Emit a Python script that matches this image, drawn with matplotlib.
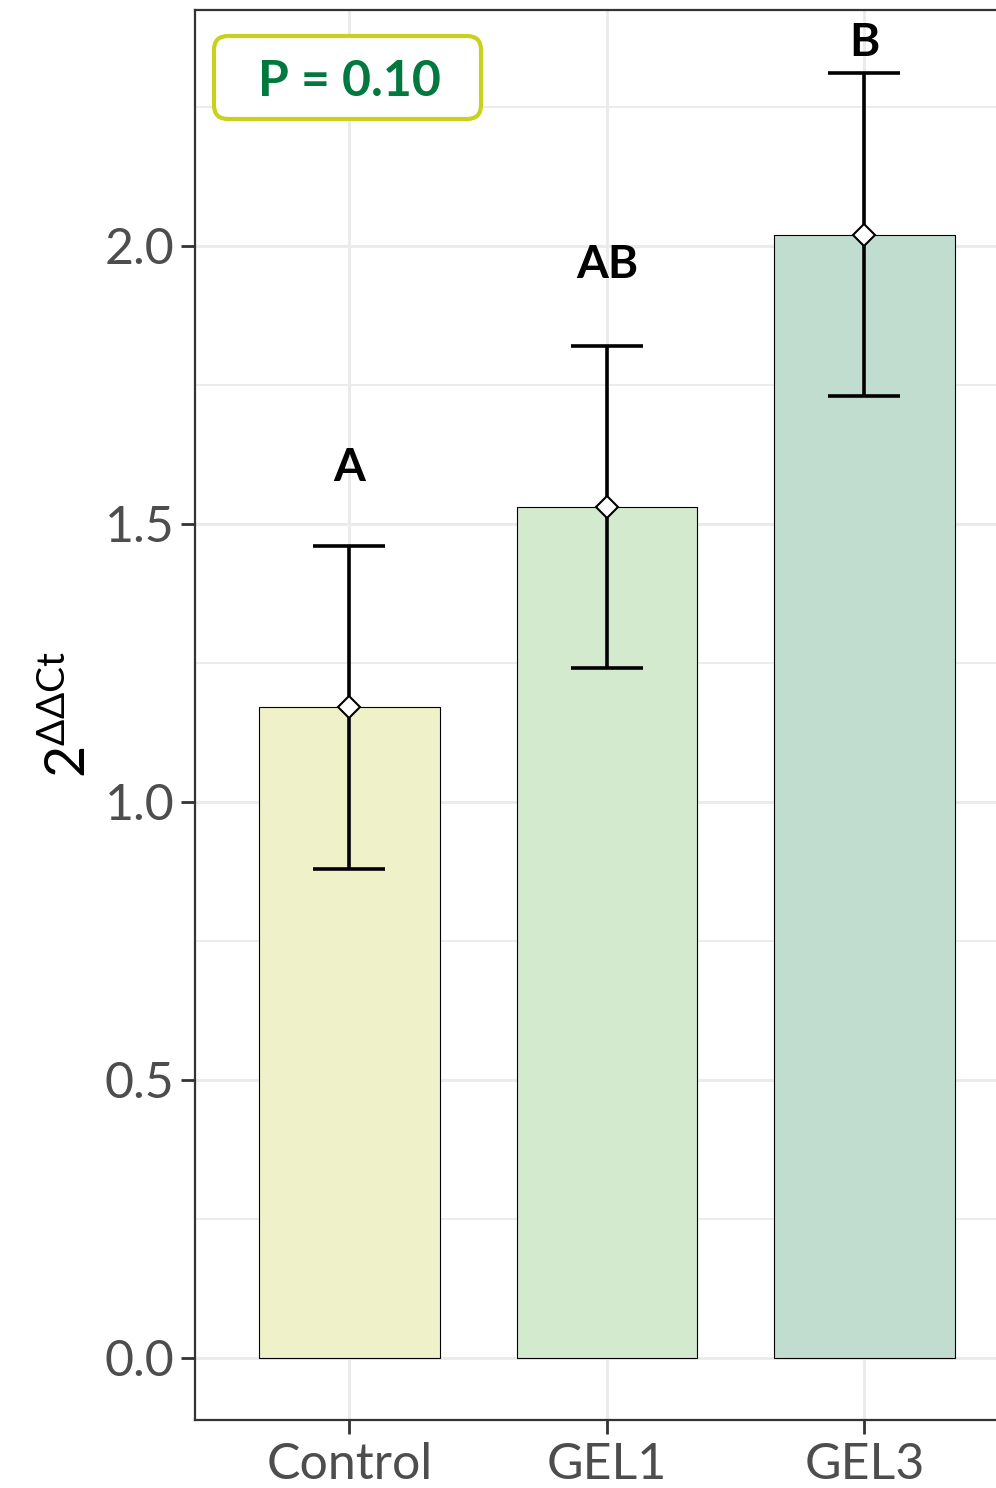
import matplotlib.pyplot as plt
import numpy as np
from matplotlib.patches import FancyBboxPatch
from matplotlib.transforms import IdentityTransform

grupos = ["Control", "GEL1", "GEL3"]
medias = [1.17, 1.53, 2.02]
errores = [0.29, 0.29, 0.29]
letras = ["A", "AB", "B"]
pos_letras = [1.60, 1.965, 2.365]
colores = ["#EFF2C8", "#D3EACE", "#C0DDD0"]
texto_p = "P = 0.10"

plt.rcParams['font.family'] = ['Lato', 'DejaVu Sans']

fig = plt.figure(figsize=(9.96, 14.88), dpi=100)
ax = fig.add_axes([0.1958, 0.0457, 0.8272, 0.9476])

x = np.arange(len(grupos))

# rejilla estilo theme_bw
ax.set_axisbelow(True)
ax.set_yticks([0, 0.5, 1.0, 1.5, 2.0])
ax.set_yticks([0.25, 0.75, 1.25, 1.75, 2.25], minor=True)
ax.grid(True, which='major', color='#EBEBEB', linewidth=2.2)
ax.grid(True, which='minor', axis='y', color='#EBEBEB', linewidth=1.3)

ax.bar(x, medias, width=0.7, color=colores, edgecolor='black', linewidth=0.8, zorder=2)
ax.errorbar(x, medias, yerr=errores, fmt='none', ecolor='black', elinewidth=2.6,
            capsize=26, capthick=2.6, zorder=3)
ax.plot(x, medias, linestyle='none', marker='D', markersize=11.5,
        markerfacecolor='white', markeredgecolor='black', markeredgewidth=1.5, zorder=4)

for xi, letra, yl in zip(x, letras, pos_letras):
    ax.text(xi, yl, letra, ha='center', va='center', fontsize=33, fontweight='bold')

# recuadro con el valor P (en píxeles de la figura)
caja = FancyBboxPatch((214, 1369), 267, 83, boxstyle='round,pad=0,rounding_size=14',
                      transform=IdentityTransform(), facecolor='white',
                      edgecolor='#C8D11E', linewidth=3, clip_on=False, zorder=5)
ax.add_patch(caja)
ax.text(0, 2.296, texto_p, ha='center', va='center', fontsize=36, fontweight='bold',
        color='#00783E', zorder=6)

ax.set_xlim(-0.6, 2.6)
ax.set_ylim(-0.1115, 2.424)
ax.set_xticks(x)
ax.set_xticklabels(grupos)
ax.set_yticklabels(["0.0", "0.5", "1.0", "1.5", "2.0"])
ax.tick_params(axis='both', which='major', labelsize=36, labelcolor='#4D4D4D',
               color='#333333', length=10, width=2)
ax.tick_params(axis='y', which='minor', length=0)
ax.tick_params(axis='x', pad=6)
ax.tick_params(axis='y', pad=5)

for lado in ax.spines.values():
    lado.set_color('#333333')
    lado.set_linewidth(1.6)

ax.set_ylabel(r'$\mathregular{2^{\Delta\Delta Ct}}$', fontsize=40, labelpad=6)

fig.savefig('out.png', dpi=100)
